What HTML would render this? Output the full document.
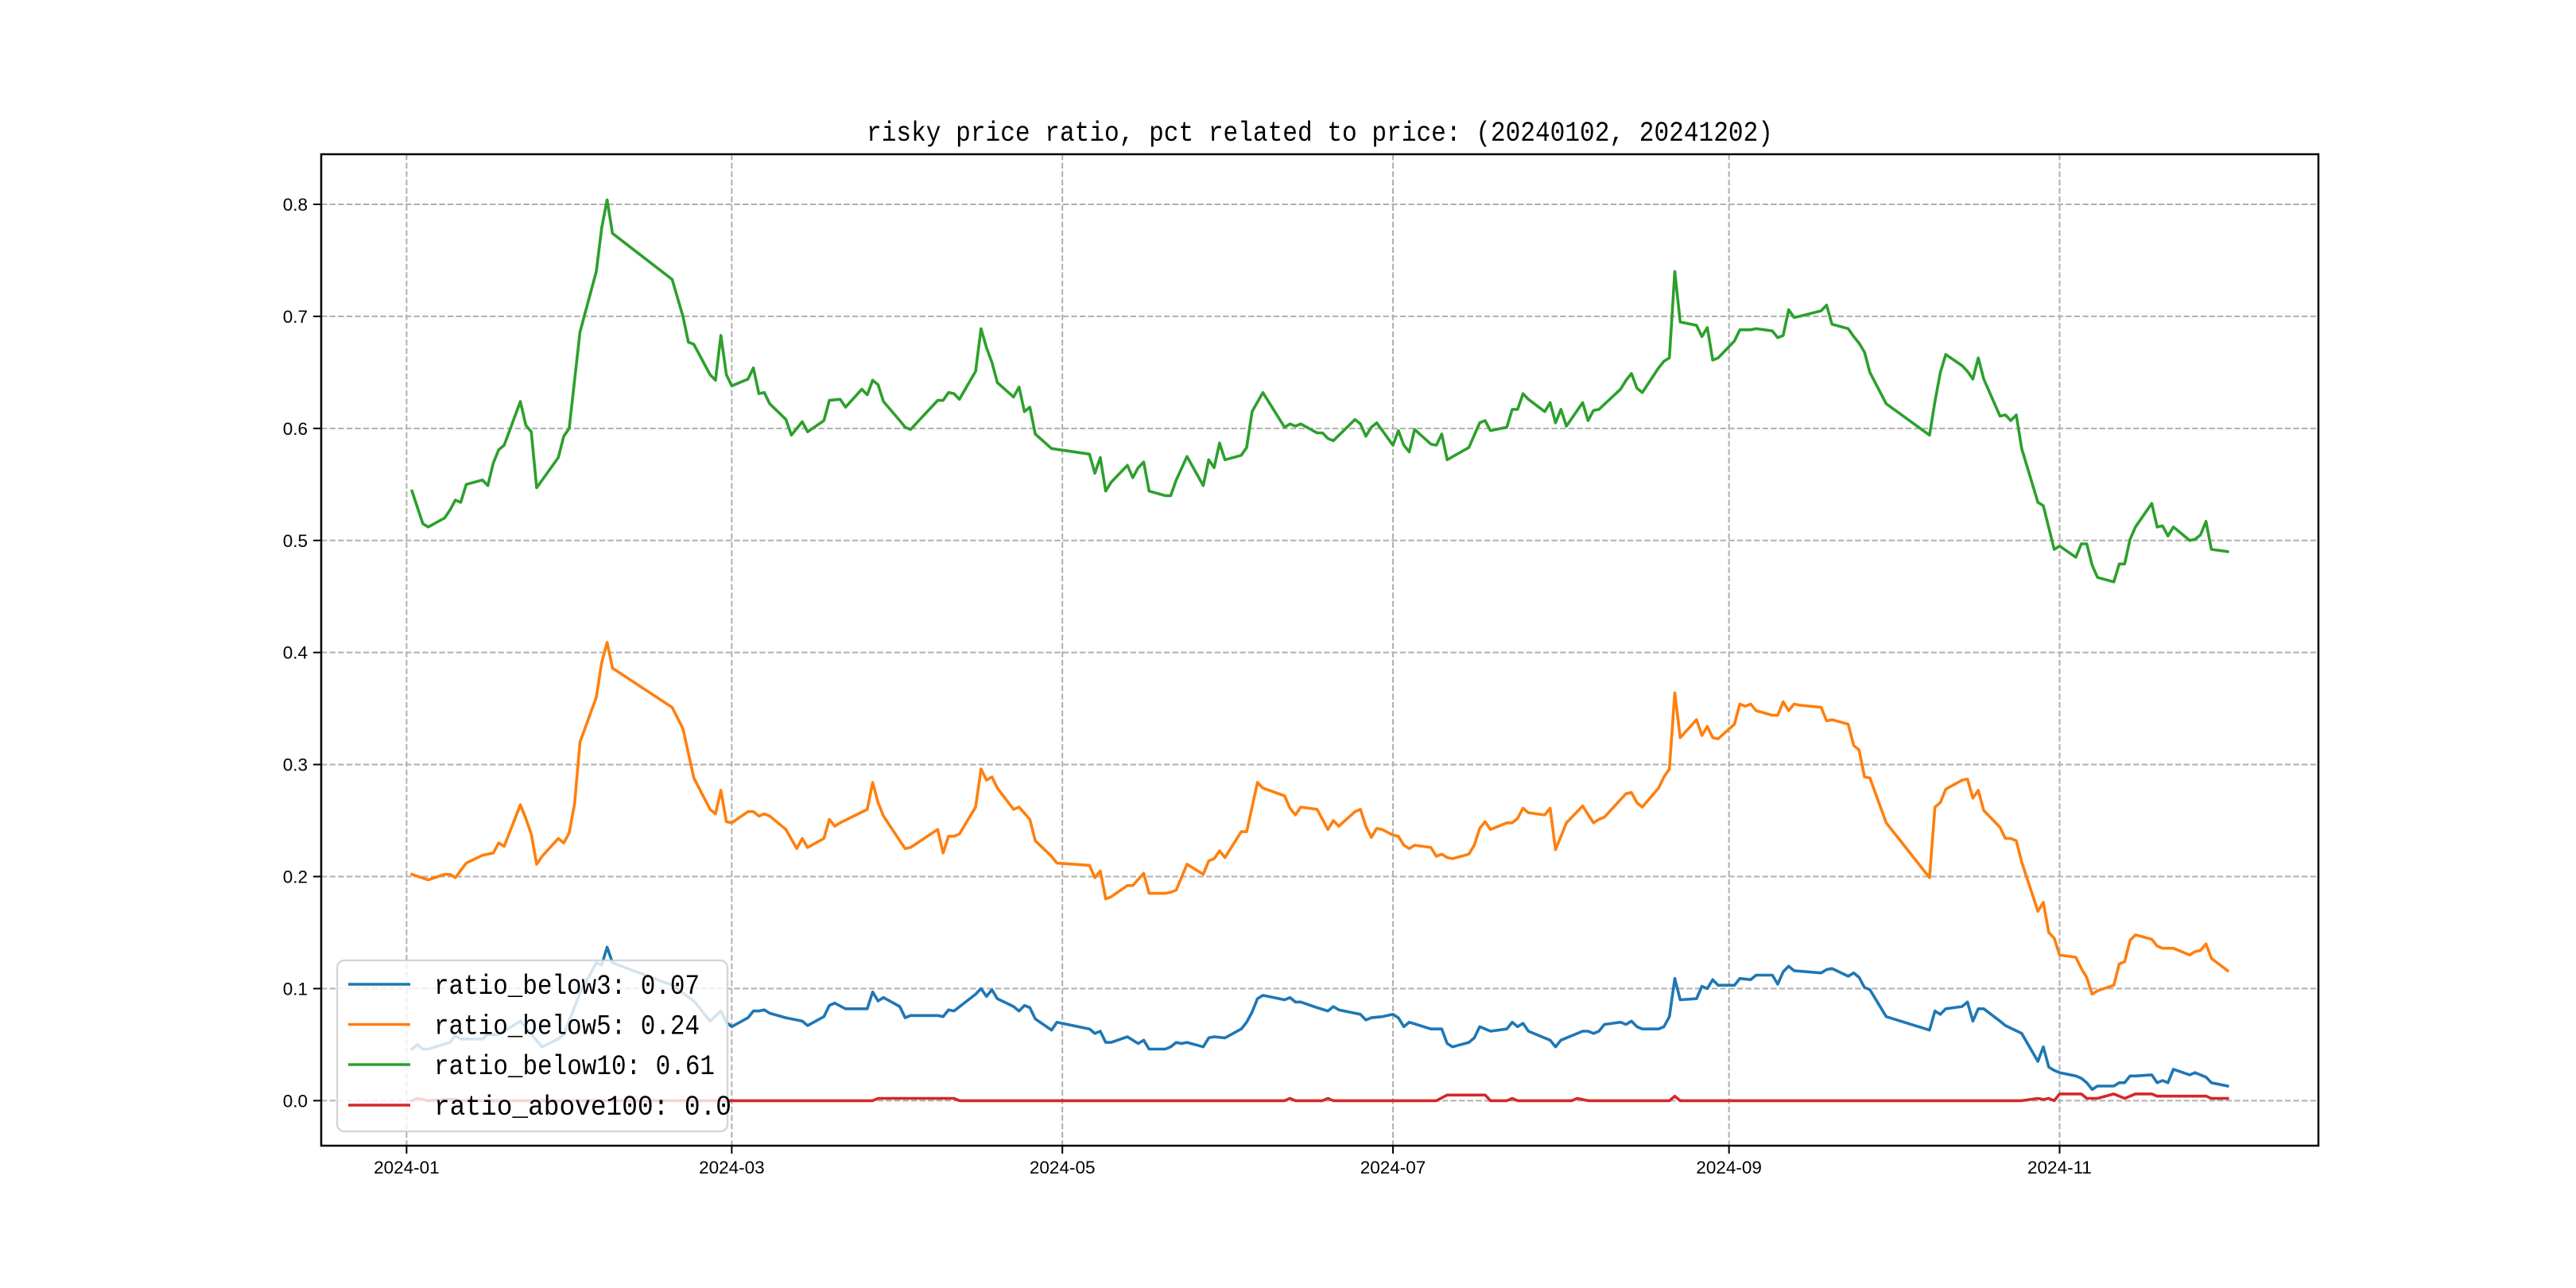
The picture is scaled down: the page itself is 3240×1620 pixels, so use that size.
<!DOCTYPE html>
<html><head><meta charset="utf-8"><title>risky price ratio</title>
<style>html,body{margin:0;padding:0;background:#fff;}svg{display:block;}</style></head>
<body>
<svg id="chart" xmlns="http://www.w3.org/2000/svg" width="3240" height="1620" viewBox="0 0 3240 1620">
<rect x="0" y="0" width="3240" height="1620" fill="#ffffff"/>
<g id="grid"></g>
<g id="series"></g>
<rect x="404" y="194" width="2512" height="1247" fill="none" stroke="#000" stroke-width="2.5"/>
<g id="axes"></g>
<text x="1660" y="177" text-anchor="middle" font-family="Liberation Mono, monospace" font-size="35" textLength="1140" lengthAdjust="spacingAndGlyphs" fill="#000">risky price ratio, pct related to price: (20240102, 20241202)</text>
<g id="legend"></g>
</svg>
<script>
// day offsets are days since 2024-01-01
const below3Days = [1,2,3,4,8,9,10,14,15,17,21,22,25,28,29,32,35,36,37,38,49,53,56,58,59,60,63,64,65,66,67,70,72,73,74,77,78,79,81,85,86,87,88,91,92,93,98,99,100,101,105,106,107,108,109,112,113,114,115,116,119,120,126,127,128,129,130,133,134,135,136,137,140,141,142,143,144,147,148,149,151,154,155,156,157,158,162,163,164,165,168,170,171,172,175,176,177,178,180,182,183,184,185,189,191,192,193,196,197,198,200,203,204,205,206,207,211,212,213,217,218,219,220,221,224,225,226,227,228,231,232,233,234,235,238,239,240,241,242,245,246,248,249,252,253,254,255,256,261,262,263,266,267,268,269,270,273,281,282,283,284,287,288,289,290,291,294,295,298,301,302,303,304,305,308,309,310,311,312,315,316,317,318,319,322,323,324,325,326,329,330,332,333,336];
const below3Vals = [0.046,0.050,0.046,0.046,0.052,0.058,0.055,0.055,0.059,0.059,0.071,0.065,0.048,0.055,0.059,0.096,0.123,0.121,0.137,0.123,0.103,0.089,0.071,0.080,0.070,0.066,0.074,0.080,0.080,0.081,0.078,0.074,0.072,0.071,0.067,0.075,0.085,0.087,0.082,0.082,0.097,0.089,0.092,0.084,0.074,0.076,0.076,0.075,0.081,0.080,0.095,0.100,0.093,0.099,0.091,0.084,0.080,0.085,0.083,0.073,0.063,0.070,0.064,0.060,0.062,0.052,0.052,0.057,0.054,0.051,0.054,0.046,0.046,0.048,0.052,0.051,0.052,0.048,0.056,0.057,0.056,0.064,0.070,0.079,0.091,0.094,0.090,0.092,0.088,0.088,0.083,0.080,0.084,0.081,0.078,0.077,0.072,0.074,0.075,0.077,0.074,0.066,0.070,0.064,0.064,0.051,0.048,0.052,0.056,0.066,0.062,0.064,0.070,0.066,0.069,0.062,0.054,0.048,0.054,0.062,0.062,0.060,0.062,0.068,0.070,0.068,0.071,0.066,0.064,0.064,0.066,0.075,0.109,0.090,0.091,0.102,0.100,0.108,0.103,0.103,0.109,0.108,0.112,0.112,0.104,0.115,0.120,0.116,0.114,0.117,0.118,0.111,0.114,0.110,0.101,0.099,0.075,0.063,0.080,0.077,0.082,0.084,0.088,0.071,0.082,0.082,0.071,0.067,0.060,0.035,0.048,0.030,0.027,0.025,0.022,0.020,0.016,0.010,0.013,0.013,0.016,0.016,0.022,0.022,0.023,0.016,0.018,0.016,0.028,0.023,0.025,0.021,0.016,0.013];

const below5Days = [1,4,7,8,9,11,14,15,16,17,18,21,22,23,24,25,28,29,30,31,32,35,36,37,38,49,51,53,56,57,58,59,60,63,64,65,66,67,70,72,73,74,77,78,79,80,85,86,87,88,91,92,93,98,99,100,101,102,105,106,107,108,109,112,113,115,116,119,120,126,127,128,129,130,133,134,136,137,140,141,142,144,147,148,149,150,151,154,155,157,158,162,163,164,165,168,170,171,172,175,176,177,178,179,180,182,183,184,185,186,189,190,191,192,193,196,197,198,199,200,203,204,205,206,207,210,211,212,214,217,219,220,221,225,226,227,228,231,232,233,234,235,238,239,240,241,242,245,246,247,248,249,252,253,254,255,256,257,261,262,263,266,267,268,269,270,273,281,282,283,284,287,288,289,290,291,294,295,296,297,298,301,302,303,304,305,308,309,310,311,312,315,316,317,318,319,322,323,324,326,329,330,331,332,333,336];
const below5Vals = [0.202,0.197,0.202,0.202,0.199,0.212,0.219,0.220,0.221,0.230,0.227,0.264,0.252,0.238,0.211,0.218,0.234,0.230,0.239,0.265,0.320,0.360,0.391,0.409,0.386,0.351,0.332,0.288,0.260,0.256,0.277,0.249,0.248,0.258,0.258,0.254,0.256,0.254,0.242,0.225,0.234,0.226,0.234,0.251,0.245,0.248,0.260,0.284,0.266,0.254,0.232,0.225,0.226,0.242,0.221,0.236,0.236,0.238,0.262,0.296,0.286,0.289,0.279,0.260,0.262,0.251,0.232,0.218,0.212,0.210,0.199,0.205,0.180,0.182,0.192,0.192,0.203,0.185,0.185,0.186,0.188,0.211,0.202,0.214,0.216,0.223,0.217,0.240,0.240,0.284,0.279,0.272,0.261,0.255,0.262,0.260,0.242,0.250,0.245,0.258,0.260,0.245,0.235,0.243,0.242,0.237,0.236,0.228,0.225,0.228,0.226,0.218,0.220,0.217,0.216,0.220,0.228,0.243,0.249,0.242,0.248,0.248,0.252,0.261,0.257,0.255,0.261,0.224,0.248,0.263,0.248,0.251,0.253,0.274,0.275,0.266,0.262,0.279,0.289,0.296,0.364,0.324,0.340,0.326,0.334,0.324,0.323,0.336,0.354,0.352,0.354,0.348,0.344,0.344,0.356,0.348,0.354,0.353,0.351,0.339,0.340,0.336,0.317,0.313,0.289,0.288,0.248,0.199,0.262,0.266,0.278,0.286,0.287,0.270,0.277,0.259,0.244,0.234,0.234,0.232,0.213,0.169,0.177,0.150,0.145,0.130,0.128,0.118,0.110,0.095,0.098,0.103,0.122,0.124,0.143,0.148,0.144,0.138,0.136,0.136,0.130,0.133,0.134,0.140,0.127,0.116];

const below10Days = [1,3,4,7,8,9,10,11,14,15,16,17,18,21,22,23,24,28,29,30,32,35,36,37,38,49,51,52,53,56,57,58,59,60,63,64,65,66,67,70,71,73,74,77,78,80,81,84,85,86,87,88,91,92,93,98,99,100,101,102,105,106,107,108,109,112,113,114,115,116,119,126,127,128,129,130,133,134,135,136,137,140,141,142,144,147,148,149,150,151,154,155,156,158,162,163,164,165,168,169,170,171,175,176,177,178,179,182,183,184,185,186,189,190,191,192,196,197,198,199,200,203,204,205,206,207,210,211,212,213,214,217,218,219,220,224,225,226,227,228,231,232,233,234,235,238,239,240,241,242,245,246,248,249,252,253,254,255,256,257,261,262,263,266,267,268,269,270,273,281,282,283,284,287,288,289,290,291,294,295,296,297,298,301,302,304,305,308,309,310,311,312,315,316,317,318,319,322,323,324,325,326,329,330,331,332,333,336];
const below10Vals = [0.544,0.515,0.512,0.520,0.527,0.536,0.534,0.550,0.554,0.549,0.569,0.581,0.585,0.624,0.603,0.597,0.547,0.574,0.593,0.600,0.686,0.740,0.779,0.804,0.774,0.733,0.700,0.677,0.675,0.648,0.643,0.683,0.648,0.638,0.644,0.654,0.631,0.632,0.622,0.608,0.594,0.606,0.597,0.607,0.625,0.626,0.619,0.635,0.630,0.643,0.639,0.624,0.607,0.601,0.599,0.625,0.625,0.632,0.631,0.626,0.651,0.689,0.672,0.659,0.641,0.628,0.637,0.615,0.619,0.595,0.582,0.577,0.560,0.574,0.544,0.552,0.567,0.556,0.565,0.570,0.544,0.540,0.540,0.554,0.575,0.549,0.572,0.565,0.587,0.572,0.576,0.583,0.615,0.632,0.601,0.604,0.602,0.604,0.596,0.596,0.591,0.589,0.608,0.604,0.593,0.601,0.605,0.585,0.598,0.585,0.579,0.599,0.586,0.585,0.595,0.572,0.583,0.594,0.605,0.607,0.598,0.601,0.617,0.617,0.631,0.626,0.615,0.623,0.605,0.617,0.602,0.623,0.607,0.616,0.617,0.635,0.643,0.649,0.636,0.632,0.654,0.660,0.663,0.740,0.695,0.692,0.682,0.690,0.661,0.663,0.678,0.688,0.688,0.689,0.687,0.681,0.683,0.706,0.699,0.700,0.705,0.710,0.693,0.689,0.682,0.676,0.668,0.650,0.622,0.594,0.624,0.650,0.666,0.656,0.651,0.644,0.663,0.644,0.611,0.612,0.607,0.612,0.582,0.534,0.531,0.492,0.495,0.485,0.497,0.497,0.478,0.467,0.463,0.479,0.479,0.501,0.512,0.533,0.512,0.513,0.504,0.512,0.500,0.501,0.505,0.517,0.492,0.490];

const above100Days = [1,2,4,7,9,10,86,87,101,102,162,163,164,169,170,171,190,192,199,200,203,204,205,215,216,218,233,234,235,298,301,302,303,304,305,309,310,312,315,317,319,322,323,332,333,336];
const above100Vals = [0,0.002,0,0.001,0.001,0,0,0.002,0.002,0,0,0.002,0,0,0.002,0,0,0.005,0.005,0,0,0.002,0,0,0.002,0,0,0.004,0,0,0.002,0.001,0.002,0,0.006,0.006,0.002,0.002,0.006,0.002,0.006,0.006,0.004,0.004,0.002,0.002];

const seriesNames = ['ratio_below3','ratio_below5','ratio_below10','ratio_above100'];
const legendLabels = ['ratio_below3: 0.07','ratio_below5: 0.24','ratio_below10: 0.61','ratio_above100: 0.0'];
const yTickValues = [0.0,0.1,0.2,0.3,0.4,0.5,0.6,0.7,0.8];
const yTickLabels = ['0.0','0.1','0.2','0.3','0.4','0.5','0.6','0.7','0.8'];
const xTickDays = [0,60,121,182,244,305];
const xTickLabels = ['2024-01','2024-03','2024-05','2024-07','2024-09','2024-11'];

const NS = 'http://www.w3.org/2000/svg';
const L = 404, R = 2916, T = 194, B = 1441;
const X0 = -15.75, X1 = 352.75, Y0 = -0.0402, Y1 = 0.8447;
function xs(d){ return L + (d - X0) / (X1 - X0) * (R - L); }
function ys(v){ return B - (v - Y0) / (Y1 - Y0) * (B - T); }
function mk(tag, attrs, parent){ const e = document.createElementNS(NS, tag); for (const k in attrs) e.setAttribute(k, attrs[k]); parent.appendChild(e); return e; }

const grid = document.getElementById('grid');
const axes = document.getElementById('axes');
yTickValues.forEach((v, i) => {
  const y = ys(v);
  const g = mk('line', {x1:L, x2:R, y1:y, y2:y, stroke:'#b0b0b0', 'stroke-width':2, 'stroke-dasharray':'7.4 3.2'}, grid);
  
  
  const t = mk('line', {x1:L-10, x2:L, y1:y, y2:y, stroke:'#000', 'stroke-width':2}, axes);
  
  
  const lb = mk('text', {x:387, y:y+8, 'text-anchor':'end', 'font-family':'Liberation Sans, sans-serif', 'font-size':22.5, fill:'#000'}, axes);
  lb.textContent = yTickLabels[i];
  
  
});
xTickDays.forEach((d, i) => {
  const x = xs(d);
  const g = mk('line', {x1:x, x2:x, y1:T, y2:B, stroke:'#b0b0b0', 'stroke-width':2, 'stroke-dasharray':'7.4 3.2'}, grid);
  
  
  const t = mk('line', {x1:x, x2:x, y1:B, y2:B+10, stroke:'#000', 'stroke-width':2}, axes);
  
  
  const lb = mk('text', {x:x, y:1476, 'text-anchor':'middle', 'font-family':'Liberation Sans, sans-serif', 'font-size':22.5, fill:'#000'}, axes);
  lb.textContent = xTickLabels[i];
  
  
});

const colors = ['#1f77b4','#ff7f0e','#2ca02c','#d62728'];
const allDays = [below3Days, below5Days, below10Days, above100Days];
const allVals = [below3Vals, below5Vals, below10Vals, above100Vals];
const seriesG = document.getElementById('series');
allDays.forEach((days, s) => {
  const vals = allVals[s];
  const n = Math.min(days.length, vals.length);
  let d = '';
  for (let i = 0; i < n; i++) d += (i ? 'L' : 'M') + xs(days[i]).toFixed(1) + ',' + ys(vals[i]).toFixed(1);
  const p = mk('path', {d:d, fill:'none', stroke:colors[s], 'stroke-width':3.6, 'stroke-linejoin':'round', 'stroke-linecap':'square'}, seriesG);
  
  
});

const lg = document.getElementById('legend');
const box = mk('rect', {x:424, y:1208, width:491, height:215, rx:9, ry:9, fill:'#ffffff', 'fill-opacity':0.8, stroke:'#cccccc', 'stroke-opacity':0.8, 'stroke-width':2.5}, lg);


const rowY = [1238, 1288.5, 1339, 1390];
const textLens = [334, 334, 353, 374];
legendLabels.forEach((lab, i) => {
  const y = rowY[i];
  const h = mk('line', {x1:438, x2:516, y1:y, y2:y, stroke:colors[i], 'stroke-width':3.6}, lg);
  
  
  const t = mk('text', {x:546, y:y+12, 'font-family':'Liberation Mono, monospace', 'font-size':35, textLength:textLens[i], lengthAdjust:'spacingAndGlyphs', fill:'#000'}, lg);
  t.textContent = lab;
  
  
});
</script>
</body></html>
